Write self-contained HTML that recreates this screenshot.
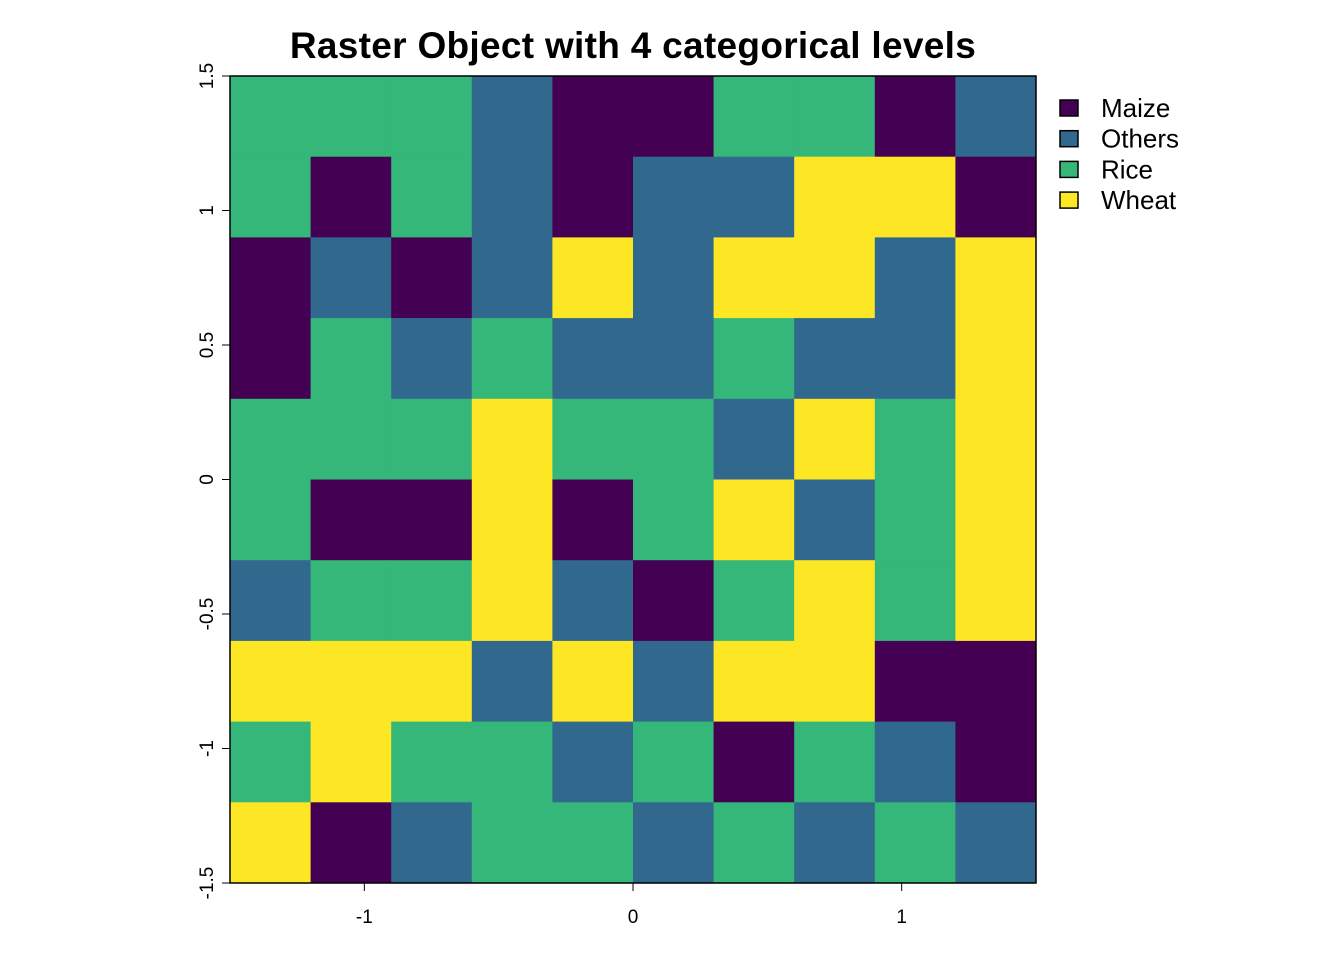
<!DOCTYPE html>
<html><head><meta charset="utf-8"><style>
body{margin:0;background:#fff;}
svg text{font-family:"Liberation Sans",Arial,sans-serif;}
</style></head><body>
<svg id="chart" width="1344" height="960" xmlns="http://www.w3.org/2000/svg">
<text x="633" y="58" text-anchor="middle" font-size="37" font-weight="bold" letter-spacing="0.3">Raster Object with 4 categorical levels</text>
<g id="cells"></g>
<rect x="230" y="76" width="806" height="807" fill="none" stroke="#000" stroke-width="1.5"/>
<g id="axes"></g>
<g id="legend"></g>
</svg>
<script>
const levels = ["Maize","Others","Rice","Wheat"];
const colors = ["#440154","#31688E","#35B779","#FDE725"];
const gridRows = [
"RRROMMRRMO",
"RMROMOOWWM",
"MOMOWOWWOW",
"MROROOROOW",
"RRRWRROWRW",
"RMMWMRWORW",
"ORRWOMRWRW",
"WWWOWOWWMM",
"RWRRORMROM",
"WMORRORORO"];
const xTicks = [-1,0,1];
const yTicks = [-1.5,-1,-0.5,0,0.5,1,1.5];
const xMin=-1.5,xMax=1.5,yMin=-1.5,yMax=1.5;
const L=230,R=1036,T=76,B=883;
const sx=v=>L+(v-xMin)/(xMax-xMin)*(R-L);
const sy=v=>B-(v-yMin)/(yMax-yMin)*(B-T);
const NS="http://www.w3.org/2000/svg";
const code={M:0,O:1,R:2,W:3};
const cells=document.getElementById('cells');
const n=gridRows.length, m=gridRows[0].length;
const cw=(xMax-xMin)/m, ch=(yMax-yMin)/n;
gridRows.forEach((row,i)=>{
  [...row].forEach((c,j)=>{
    const r=document.createElementNS(NS,'rect');
    const x0=sx(xMin+j*cw), x1=sx(xMin+(j+1)*cw);
    const y0=sy(yMax-i*ch), y1=sy(yMax-(i+1)*ch);
    r.setAttribute('x',x0);r.setAttribute('y',y0);
    r.setAttribute('width',x1-x0+0.5);r.setAttribute('height',y1-y0+0.5);
    r.setAttribute('fill',colors[code[c]]);
    
    
    cells.appendChild(r);
  });
});
const axes=document.getElementById('axes');
xTicks.forEach(v=>{
  const x=sx(v);
  const l=document.createElementNS(NS,'line');
  l.setAttribute('x1',x);l.setAttribute('x2',x);l.setAttribute('y1',B);l.setAttribute('y2',B+8);
  l.setAttribute('stroke','#000');
  
  
  axes.appendChild(l);
  const t=document.createElementNS(NS,'text');
  t.setAttribute('x',x);t.setAttribute('y',923);t.setAttribute('text-anchor','middle');t.setAttribute('font-size','19');
  t.textContent=v;
  
  
  axes.appendChild(t);
});
yTicks.forEach(v=>{
  const y=sy(v);
  const l=document.createElementNS(NS,'line');
  l.setAttribute('x1',L-8);l.setAttribute('x2',L);l.setAttribute('y1',y);l.setAttribute('y2',y);
  l.setAttribute('stroke','#000');
  
  
  axes.appendChild(l);
  const t=document.createElementNS(NS,'text');
  t.setAttribute('x',213);t.setAttribute('y',y);t.setAttribute('text-anchor','middle');t.setAttribute('font-size','19');
  t.setAttribute('transform','rotate(-90 213 '+y+')');
  t.textContent=v;
  
  
  axes.appendChild(t);
});
const lg=document.getElementById('legend');
levels.forEach((name,i)=>{
  const y=100+i*30.7;
  const r=document.createElementNS(NS,'rect');
  r.setAttribute('x',1060);r.setAttribute('y',y);r.setAttribute('width',18);r.setAttribute('height',16);
  r.setAttribute('fill',colors[i]);r.setAttribute('stroke','#000');r.setAttribute('stroke-width','1.5');
  
  
  lg.appendChild(r);
  const t=document.createElementNS(NS,'text');
  t.setAttribute('x',1101);t.setAttribute('y',y+17);t.setAttribute('font-size','26');
  t.textContent=name;
  
  
  lg.appendChild(t);
});
</script>
</body></html>
